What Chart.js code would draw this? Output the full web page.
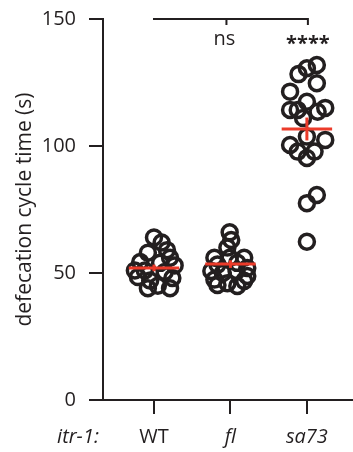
<!DOCTYPE html>
<html>
<head>
<meta charset="utf-8">
<script src="https://cdn.jsdelivr.net/npm/chart.js@4"></script>
<style>
  html, body { margin: 0; padding: 0; background: #fff; }
  #wrap { width: 353px; height: 452px; }
</style>
</head>
<body>
<div id="wrap"><canvas id="chart" width="353" height="452"></canvas></div>
<script>
// datos
const groupLabels = ['WT', 'fl', 'sa73'];
const yTicks = [0, 50, 100, 150];

const wtValues = [64, 62, 59, 58, 56, 54.3, 54, 53, 51, 50.4, 48.4, 48, 47, 45, 44, 44, 51];
const wtJitter = [0, 0.10, 0.17, -0.08, 0.21, -0.18, 0.08, 0.27, -0.12, 0.14, -0.21, 0.24, -0.05, 0.05, -0.08, 0.21, -0.25];

const flValues = [66, 63, 60, 56, 56, 56, 53.3, 54, 52, 50.8, 50, 50.8, 48.8, 47.4, 46, 44.9, 45.3, 46.9];
const flJitter = [-0.01, 0.01, -0.04, -0.01, -0.21, 0.18, -0.17, 0.09, 0.22, -0.25, -0.10, 0.08, 0.22, -0.21, -0.04, 0.09, -0.17, 0.18];

const sa73Values = [131.9, 130.6, 128.3, 124.7, 121.4, 117.4, 114.2, 114.2, 115, 113.5, 111, 103.7, 102.4, 100.4, 97.8, 97.8, 95.3, 80.7, 77.5, 62.3];
const sa73Jitter = [0.13, 0, -0.11, 0.13, -0.22, 0, -0.22, -0.12, 0.24, 0.14, -0.05, 0, 0.24, -0.22, -0.12, 0.10, 0, 0.13, 0, 0];

const groupMeans = [52, 53.5, 106.7];
const groupSem = [1.3, 1.5, 4.5];
const significance = ['ns', '****'];

const ink = '#231f20';
const red = '#ec3b2a';
const fontFamily = '"Open Sans", "Noto Sans", sans-serif';

const groups = [
  { values: wtValues, jitter: wtJitter },
  { values: flValues, jitter: flJitter },
  { values: sa73Values, jitter: sa73Jitter }
];

const datasets = [];
groups.forEach((g, i) => {
  datasets.push({
    type: 'scatter',
    data: g.values.map((v, k) => ({ x: i + 1 + g.jitter[k], y: v })),
    pointRadius: 7.5,
    pointBorderWidth: 3.5,
    pointBackgroundColor: 'rgba(0,0,0,0)',
    pointBorderColor: ink,
    order: 2
  });
});
groupMeans.forEach((m, i) => {
  const c = i + 1;
  // linea de la media
  datasets.push({
    type: 'line',
    data: [{ x: c - 0.33, y: m }, { x: c + 0.33, y: m }],
    borderColor: red, borderWidth: 3, pointRadius: 0, order: 1
  });
  // error estandar
  datasets.push({
    type: 'line',
    data: [{ x: c, y: m - groupSem[i] }, { x: c, y: m + groupSem[i] }],
    borderColor: red, borderWidth: 3, pointRadius: 0, order: 1
  });
});

const extras = {
  id: 'extras',
  afterDraw(chart) {
    const ctx = chart.ctx;
    const xs = chart.scales.x;
    const top = chart.chartArea.top;
    const x1 = xs.getPixelForValue(1) - 1;
    const x2 = xs.getPixelForValue(2) - 4;
    const x3 = xs.getPixelForValue(3) + 2;
    ctx.save();
    ctx.strokeStyle = ink;
    ctx.lineWidth = 2;
    ctx.beginPath();
    ctx.moveTo(x1, top);
    ctx.lineTo(x3, top);
    ctx.moveTo(x2, top);
    ctx.lineTo(x2, top + 6);
    ctx.moveTo(x3 - 1, top);
    ctx.lineTo(x3 - 1, top + 6);
    ctx.stroke();

    ctx.fillStyle = ink;
    ctx.textAlign = 'center';
    ctx.textBaseline = 'middle';
    ctx.font = '20px ' + fontFamily;
    ctx.fillText(significance[0], x2 - 2, top + 20);
    ctx.font = 'bold 20px ' + fontFamily;
    ctx.fillText(significance[1], x3 - 1, top + 25);

    ctx.font = 'italic 20px ' + fontFamily;
    ctx.fillText('itr-1:', 78, 437);
    ctx.restore();
  }
};

new Chart(document.getElementById('chart').getContext('2d'), {
  data: { datasets: datasets },
  options: {
    responsive: false,
    animation: false,
    events: [],
    layout: { autoPadding: false, padding: { top: 19, right: 1, left: 0, bottom: 0 } },
    plugins: { legend: { display: false }, tooltip: { enabled: false } },
    scales: {
      x: {
        type: 'linear',
        min: 0.333,
        max: 3.59,
        afterBuildTicks: (scale) => { scale.ticks = [1, 2, 3].map(v => ({ value: v })); },
        afterFit: (scale) => { scale.height = 52; scale.paddingLeft = 0; scale.paddingRight = 0; },
        grid: { drawOnChartArea: false, drawTicks: true, tickLength: 14, color: ink, lineWidth: 2 },
        border: { display: true, color: ink, width: 2 },
        ticks: {
          padding: 11,
          color: ink,
          maxRotation: 0,
          autoSkip: false,
          callback: (v) => groupLabels[v - 1],
          font: (c) => ({ family: fontFamily, size: 20, style: c.index > 0 ? 'italic' : 'normal' })
        }
      },
      y: {
        min: 0,
        max: 150,
        afterBuildTicks: (scale) => { scale.ticks = yTicks.map(v => ({ value: v })); },
        afterFit: (scale) => { scale.width = 103; scale.paddingTop = 0; scale.paddingBottom = 0; },
        grid: { drawOnChartArea: false, drawTicks: true, tickLength: 14, color: ink, lineWidth: 2 },
        border: { display: true, color: ink, width: 2 },
        ticks: { padding: 13, color: ink, font: { family: fontFamily, size: 20 } },
        title: {
          display: true,
          text: 'defecation cycle time (s)',
          color: ink,
          padding: { top: 12, bottom: 0 },
          font: { family: fontFamily, size: 21 }
        }
      }
    }
  },
  plugins: [extras]
});
</script>
</body>
</html>
